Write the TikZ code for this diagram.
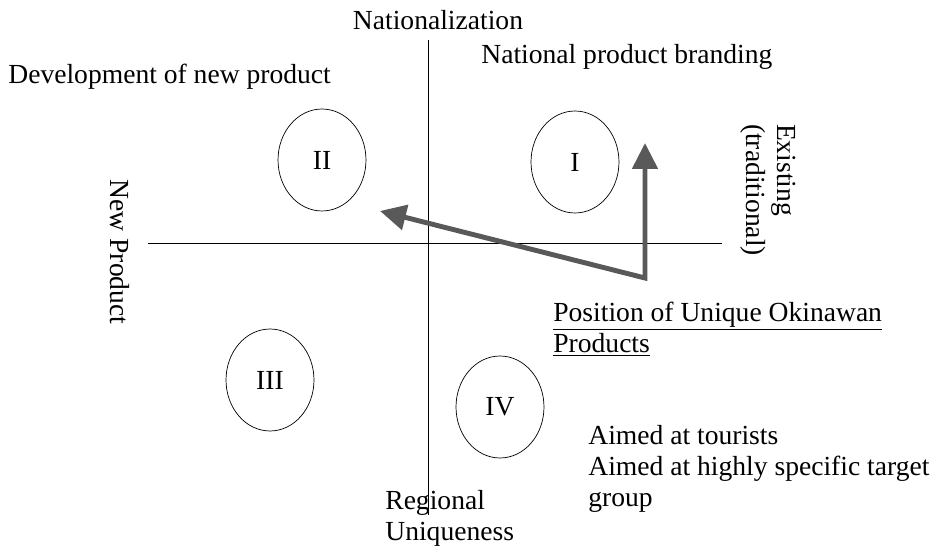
\documentclass[tikz,border=0pt]{standalone}
\usepackage{fontspec}
\setmainfont{Liberation Serif}
\usetikzlibrary{positioning, shapes.geometric, arrows.meta}

\tikzset{
    quadrant/.style = {ellipse, draw, thin, inner sep=0pt, minimum width=1.76cm, minimum height=2.04cm},
    shift arrow/.style = {line width=2.8pt, draw=black!65, {Triangle[length=0.52cm, width=0.5cm]}-{Triangle[length=0.52cm, width=0.5cm]}},
    label text/.style = {align=left, anchor=west, inner sep=0pt}
}

\begin{document}
\begin{tikzpicture}[x=0.02cm, y=-0.02cm, font=\fontsize{15.7}{17.5}\selectfont]
\useasboundingbox (0,0) rectangle (938,550);

\coordinate (axtop) at (428, 40);
\coordinate (axbottom) at (428, 515);
\coordinate (axleft) at (148, 243);
\coordinate (axright) at (722, 243);

    \draw [thin] (axtop) -- (axbottom);
    \draw [thin] (axleft) -- (axright);

\node [quadrant] (q1) at (575, 162) {I};
\node [quadrant] (q2) at (322, 160) {II};
\node [quadrant] (q3) at (270, 380) {III};
\node [quadrant] (q4) at (500, 407) {IV};

\coordinate (corner) at (645, 278);
\coordinate (tipnat) at (645, 143);
\coordinate (tipnew) at (380, 211);

    \draw [shift arrow] (tipnew) -- (corner) -- (tipnat);

\node (nat) at (438, 20) {Nationalization};
\node [label text] (brand) at (481, 57) {National product branding};
\node [label text] (devel) at (8, 77) {Development of new product};
\node [rotate=-90] (newprod) at (120, 252) {New Product};
\node [rotate=-90, align=left] (exist) at (768, 190) {Existing\\(traditional)};

\node [label text] (okinawa) at (553, 329) {\underline{Position of Unique Okinawan}\\\underline{Products}};
\node [label text] (aimed) at (588, 469) {Aimed at tourists\\Aimed at highly specific target\\group};
\node [label text] (region) at (385, 518) {Regional\\Uniqueness};

\end{tikzpicture}
\end{document}
